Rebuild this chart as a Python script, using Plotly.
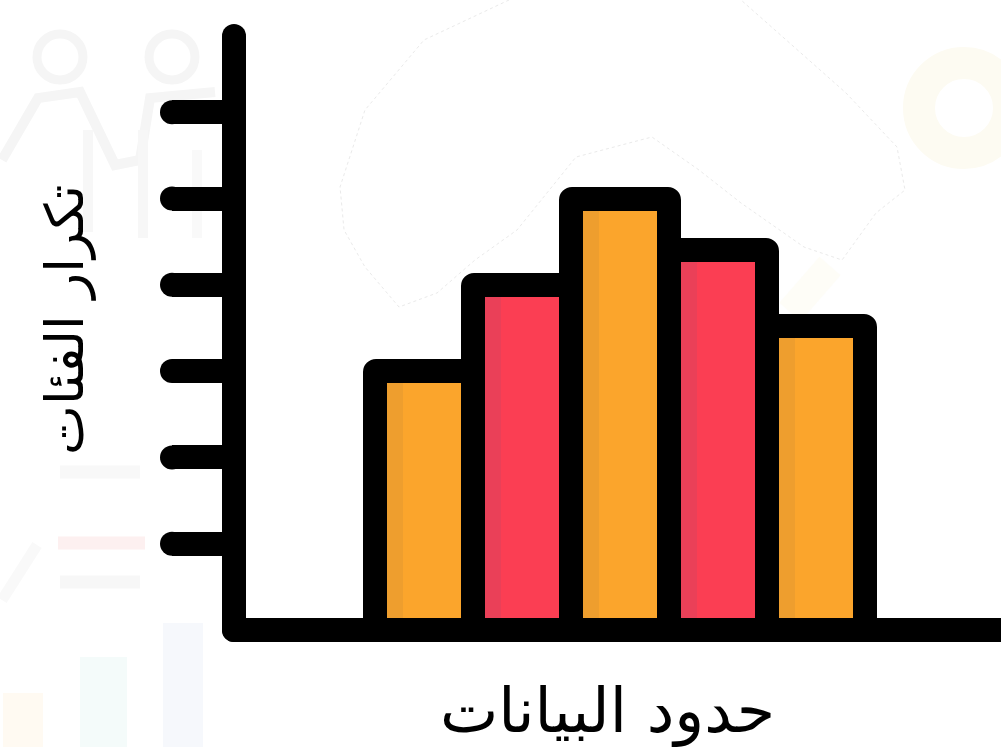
import plotly.graph_objects as go

# Data
categories = [1, 2, 3, 4, 5]
frequencies = [3, 4, 5, 4.4, 3.52]
fill_colors = ["#FBA52C", "#FB3E53", "#FBA52C", "#FB3E53", "#FBA52C"]
shade_colors = ["#EE9E2E", "#EA4058", "#EE9E2E", "#EA4058", "#EE9E2E"]
y_ticks = [1, 2, 3, 4, 5, 6]
x_title = "حدود البيانات"
y_title = "تكرار الفئات"

W, H = 1001, 747
X0, XSTEP = 424, 98      # pixel of category 1, pixels per category
Y0, YSTEP = 630, 86.3    # pixel of value 0, pixels per unit
TICK_ROOT = 234


def xv(px):
    return 1 + (px - X0) / XSTEP


def yv(py):
    return (Y0 - py) / YSTEP


def pxp(px):
    return px / W


def pyp(py):
    return 1 - py / H


fig = go.Figure()

# flat fills
fig.add_bar(x=categories, y=frequencies, width=1, marker=dict(color=fill_colors, line_width=0))
# darker left strip
fig.add_bar(x=categories, y=frequencies, width=28 / XSTEP, offset=-0.5,
            marker=dict(color=shade_colors, line_width=0))
# outlines
fig.add_bar(x=categories, y=frequencies, width=1,
            marker=dict(color="rgba(0,0,0,0)", line=dict(color="#000000", width=24)))

# axis spine: two segments, round markers give the rounded corner and ends
spine_x = [xv(234), xv(234), None, xv(234), xv(W - 1)]
spine_y = [yv(36), 0, None, 0, 0]
fig.add_scatter(x=spine_x, y=spine_y, mode="lines+markers", cliponaxis=True,
                line=dict(color="#000000", width=24),
                marker=dict(color="#000000", size=24, line_width=0))
# rounded tick ends
fig.add_scatter(x=[xv(172)] * len(y_ticks), y=y_ticks, mode="markers",
                marker=dict(color="#000000", size=24, line_width=0))

shapes = []


def stroke(points, color, width, dash="solid"):
    path = "M " + " L ".join(f"{pxp(a):.4f},{pyp(b):.4f}" for a, b in points)
    shapes.append(dict(type="path", path=path, xref="paper", yref="paper", layer="below",
                       line=dict(color=color, width=width, dash=dash)))


def block(x1, y1, x2, y2, color):
    shapes.append(dict(type="rect", xref="paper", yref="paper", layer="below",
                       x0=pxp(x1), x1=pxp(x2), y0=pyp(y1), y1=pyp(y2),
                       fillcolor=color, line_width=0))


def ring(cx, cy, r, color, width):
    shapes.append(dict(type="circle", xref="paper", yref="paper", layer="below",
                       x0=pxp(cx - r), x1=pxp(cx + r), y0=pyp(cy + r), y1=pyp(cy - r),
                       line=dict(color=color, width=width)))


# faint watermark artwork
ring(60, 57, 23, "#F5F5F5", 9)
ring(172, 57, 23, "#F5F5F5", 9)
stroke([(2, 160), (38, 98), (80, 92), (115, 165), (140, 160), (150, 98), (215, 92)], "#F5F5F5", 10)
stroke([(88, 130), (88, 232)], "#F7F7F7", 10)
stroke([(143, 130), (143, 238)], "#F7F7F7", 10)
stroke([(197, 150), (197, 238)], "#F9F9F9", 10)
ring(964, 108, 45, "#FDFBF2", 32)
stroke([(60, 472), (140, 472)], "#F8F8F8", 13)
stroke([(58, 543), (145, 543)], "#FDF0F0", 13)
stroke([(60, 582), (140, 582)], "#F7F7F7", 13)
stroke([(2, 600), (37, 545)], "#F9F9F9", 11)
block(80, 657, 127, 747, "#F4FBFA")
block(163, 623, 203, 747, "#F6F8FC")
block(3, 693, 43, 747, "#FFFAF2")
stroke([(790, 312), (830, 266)], "#FEFDF7", 28)
brain = [(509, 0), (424, 40), (365, 110), (340, 187), (344, 230), (365, 267), (399, 307),
         (437, 293), (475, 260), (517, 230), (576, 157), (652, 137), (699, 170), (741, 203),
         (804, 247), (842, 260), (876, 213), (905, 190), (897, 147), (846, 93), (775, 30), (741, 0)]
stroke(brain, "#EAEAEA", 1, "dot")

fig.update_layout(
    width=W, height=H, autosize=False,
    margin=dict(l=0, r=0, t=0, b=0, pad=0),
    paper_bgcolor="#FFFFFF", plot_bgcolor="rgba(0,0,0,0)",
    barmode="overlay", bargap=0, showlegend=False,
    barcornerradius=1,
    shapes=shapes,
    xaxis=dict(domain=[0, 1], range=[xv(0), xv(W)], showgrid=False,
               zeroline=False, showline=False, showticklabels=False, ticks="", fixedrange=True),
    yaxis=dict(domain=[0, 1], range=[yv(H), yv(0)], showgrid=False, zeroline=False,
               anchor="free", position=TICK_ROOT / W,
               showline=False, showticklabels=False, ticks="outside", tickmode="array",
               tickvals=y_ticks, ticklen=TICK_ROOT - 172, tickwidth=24, tickcolor="#000000",
               fixedrange=True),
    annotations=[
        dict(text=x_title, xref="paper", yref="paper", x=pxp(607), y=pyp(710), showarrow=False,
             font=dict(family="DejaVu Sans", size=62, color="#000000"),
             xanchor="center", yanchor="middle"),
        dict(text=y_title, xref="paper", yref="paper", x=pxp(65), y=pyp(320), showarrow=False,
             textangle=-90, font=dict(family="DejaVu Sans", size=53, color="#000000"),
             xanchor="center", yanchor="middle"),
    ],
)

fig.write_html("out.html", config=dict(displayModeBar=False),
               post_script="document.body.style.margin='0';document.body.style.overflow='hidden';")
